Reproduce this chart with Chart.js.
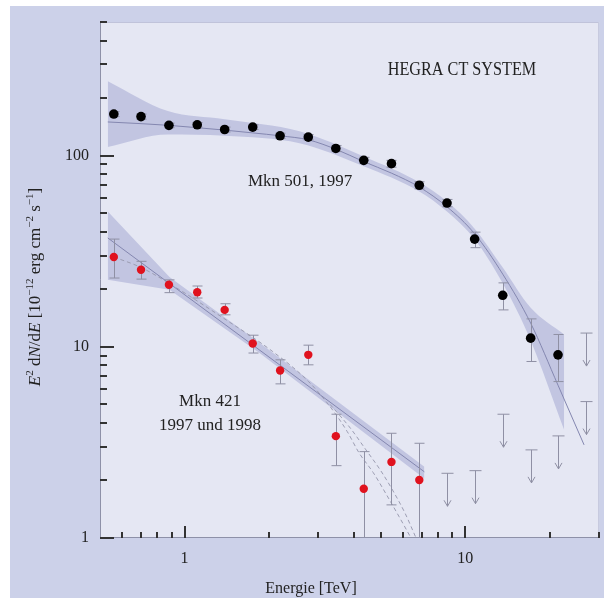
<!DOCTYPE html>
<html>
<head>
<meta charset="utf-8">
<script src="https://cdn.jsdelivr.net/npm/chart.js@4.4.0/dist/chart.umd.min.js"></script>
<style>
  html, body { margin: 0; padding: 0; background: #fff; }
  #wrap { width: 604px; height: 598px; }
</style>
</head>
<body>
<div id="wrap"><canvas id="spectrum" width="604" height="598"></canvas></div>
<script>
// --- Mkn 501 (1997), schwarze Punkte ---
const mkn501Energy = [0.56, 0.70, 0.88, 1.11, 1.39, 1.75, 2.19, 2.76, 3.46, 4.35, 5.46, 6.86, 8.61, 10.8, 13.6, 17.1, 21.4];
const mkn501Flux   = [165, 160, 144, 145, 137, 141, 127, 125, 109, 94.5, 90.8, 70, 56.5, 36.6, 18.6, 11.1, 9.08];
const mkn501High   = [170, 165, 148, 149, 141, 145, 131, 129, 113, 98, 94.5, 73, 59, 39.8, 21.6, 14.0, 11.6];
const mkn501Low    = [160, 155, 140, 141, 133, 137, 123, 121, 105, 91, 87, 67, 54, 33.0, 15.6, 8.38, 6.58];

// --- Mkn 421 (1997 und 1998), rote Punkte ---
const mkn421Energy = [0.56, 0.70, 0.88, 1.11, 1.39, 1.75, 2.19, 2.76, 3.46, 4.35, 5.46, 6.86];
const mkn421Flux   = [29.5, 25.3, 21.1, 19.3, 15.6, 10.4, 7.52, 9.08, 3.41, 1.81, 2.50, 2.01];
const mkn421High   = [36.6, 28.0, 22.4, 20.8, 16.8, 11.5, 8.55, 10.2, 4.44, 2.83, 3.53, 3.13];
const mkn421Low    = [22.9, 22.6, 19.2, 18.0, 14.7, 9.28, 6.40, 8.05, 2.39, 0.5, 1.49, 0.5];

// --- obere Grenzen (Pfeile) ---
const limitEnergy = [8.61, 10.8, 13.6, 17.1, 21.4, 26.9, 26.9];
const limitFlux   = [2.18, 2.25, 4.44, 2.89, 3.42, 5.17, 11.8];

// --- Anpassungen und Fehlerbänder ---
const fit501Energy = [0.533, 0.70, 0.88, 1.11, 1.39, 1.75, 2.19, 2.76, 3.46, 4.35, 5.46, 6.86, 8.61, 10.8, 13.6, 17.1, 21.4, 26.5];
const fit501Flux   = [150, 147, 144, 140, 136, 131.5, 127, 121, 108, 93, 81, 68.5, 54, 39, 24, 13.3, 6.3, 3.07];
const band501Energy = [0.533, 0.872, 1.39, 2.57, 4.35, 6.86, 8.61, 10.8, 13.6, 17.1, 22.5];
const band501High   = [245, 171, 155, 134, 99, 72.5, 57.5, 41.5, 26, 16, 11.6];
const band501Low    = [111, 129, 127, 116, 88, 65, 51, 36.5, 21.5, 10.8, 3.68];

const fit421Energy = [0.533, 7.15];
const fit421Flux   = [37.1, 2.22];
const band421Energy = [0.533, 0.884, 1.85, 7.15];
const band421High   = [51.1, 23.2, 10.5, 2.36];
const band421Low    = [22.4, 19.9, 9.27, 2.05];

const curveAEnergy = [0.56, 0.70, 0.88, 1.41, 2.06, 2.76, 3.33, 3.8, 4.19, 4.7, 5.21, 5.8, 6.41];
const curveAFlux   = [29.5, 26, 21.5, 13.8, 9.45, 6.6, 4.78, 3.6, 2.78, 2.2, 1.71, 1.3, 1.0];
const curveBEnergy = [3.3, 3.9, 4.43, 5.0, 5.51, 6.1, 6.68];
const curveBFlux   = [5.0, 3.75, 2.89, 2.25, 1.78, 1.35, 1.0];

// --- Achsen ---
const xMajorTicks = [1, 10];
const xTickLabels = ['1', '10'];
const xMinorTicks = [0.6, 0.7, 0.8, 0.9, 2, 3, 4, 5, 6, 7, 8, 9, 20, 30];
const yMajorTicks = [1, 10, 100];
const yTickLabels = ['1', '10', '100'];
const yMinorTicks = [2, 3, 4, 5, 6, 7, 8, 9, 20, 30, 40, 50, 60, 70, 80, 90, 200, 300, 400, 500];

const serif = '"Liberation Serif", "DejaVu Serif", serif';

function xy(xs, ys) {
    return xs.map((x, i) => ({ x: x, y: ys[i] }));
}

// Fehlerbalken und obere Grenzen
function drawErrors(chart) {
    const { ctx, chartArea: a, scales: { x, y } } = chart;
    ctx.save();
    ctx.beginPath();
    ctx.rect(a.left, a.top, a.right - a.left, a.bottom - a.top);
    ctx.clip();
    ctx.strokeStyle = '#8f90a4';
    ctx.lineWidth = 1;

    const bars = (es, hi, lo) => es.forEach((e, i) => {
        const px = Math.round(x.getPixelForValue(e)) + 0.5;
        const top = y.getPixelForValue(hi[i]);
        const bot = y.getPixelForValue(lo[i]);
        ctx.beginPath();
        ctx.moveTo(px, top); ctx.lineTo(px, bot);
        ctx.moveTo(px - 5, top); ctx.lineTo(px + 5, top);
        ctx.moveTo(px - 5, bot); ctx.lineTo(px + 5, bot);
        ctx.stroke();
    });
    bars(mkn501Energy, mkn501High, mkn501Low);
    bars(mkn421Energy, mkn421High, mkn421Low);

    limitEnergy.forEach((e, i) => {
        const px = Math.round(x.getPixelForValue(e)) + 0.5;
        const top = y.getPixelForValue(limitFlux[i]);
        const tip = top + 33;
        ctx.beginPath();
        ctx.moveTo(px - 6, top); ctx.lineTo(px + 6, top);
        ctx.moveTo(px, top); ctx.lineTo(px, tip);
        ctx.moveTo(px - 3.5, tip - 6); ctx.lineTo(px, tip); ctx.lineTo(px + 3.5, tip - 6);
        ctx.stroke();
    });
    ctx.restore();
}

function drawAxes(chart) {
    const { ctx, chartArea: a, scales: { x, y } } = chart;
    ctx.save();
    ctx.lineWidth = 1;
    ctx.strokeStyle = '#c0c3da';
    ctx.beginPath();
    ctx.moveTo(a.left, a.top + 0.5); ctx.lineTo(a.right - 0.5, a.top + 0.5); ctx.lineTo(a.right - 0.5, a.bottom);
    ctx.stroke();
    ctx.strokeStyle = '#8e91a8';
    ctx.beginPath();
    ctx.moveTo(a.left + 0.5, a.top); ctx.lineTo(a.left + 0.5, a.bottom - 0.5); ctx.lineTo(a.right, a.bottom - 0.5);
    ctx.stroke();

    ctx.strokeStyle = '#333';
    ctx.lineWidth = 2;
    const vtick = (v, len) => {
        const px = Math.round(x.getPixelForValue(v));
        ctx.beginPath(); ctx.moveTo(px, a.bottom); ctx.lineTo(px, a.bottom - len); ctx.stroke();
    };
    const htick = (v, len) => {
        const py = Math.round(y.getPixelForValue(v));
        ctx.beginPath(); ctx.moveTo(a.left, py); ctx.lineTo(a.left + len, py); ctx.stroke();
    };
    xMinorTicks.forEach(v => vtick(v, 6));
    xMajorTicks.forEach(v => vtick(v, 12));
    yMinorTicks.forEach(v => htick(v, 7));
    yMajorTicks.forEach(v => htick(v, 14));

    ctx.fillStyle = '#222';
    ctx.font = '16px ' + serif;
    ctx.textBaseline = 'middle';
    ctx.textAlign = 'center';
    xMajorTicks.forEach((v, i) => ctx.fillText(xTickLabels[i], x.getPixelForValue(v), a.bottom + 21));
    ctx.textAlign = 'right';
    yMajorTicks.forEach((v, i) => ctx.fillText(yTickLabels[i], a.left - 11, y.getPixelForValue(v)));
    ctx.restore();
}

function drawRich(ctx, parts, cx, cy, size) {
    const font = p => (p.i ? 'italic ' : '') + (p.s ? Math.round(size * 0.64) : size) + 'px ' + serif;
    let w = 0;
    parts.forEach(p => { ctx.font = font(p); p.w = ctx.measureText(p.t).width; w += p.w; });
    let px = cx - w / 2;
    parts.forEach(p => {
        ctx.font = font(p);
        ctx.fillText(p.t, px, cy + (p.s ? -size * 0.36 : 0));
        px += p.w;
    });
}

function drawTexts(chart) {
    const { ctx } = chart;
    ctx.save();
    ctx.fillStyle = '#222';
    ctx.textBaseline = 'middle';
    ctx.textAlign = 'left';

    ctx.save();
    ctx.translate(462, 70);
    ctx.scale(0.9, 1);
    ctx.font = '18px ' + serif;
    ctx.textAlign = 'center';
    ctx.fillText('HEGRA CT SYSTEM', 0, 0);
    ctx.restore();

    ctx.font = '17px ' + serif;
    ctx.fillText('Mkn 501, 1997', 248, 182);
    ctx.textAlign = 'center';
    ctx.fillText('Mkn 421', 210, 402);
    ctx.fillText('1997 und 1998', 210, 426);

    ctx.font = '16px ' + serif;
    ctx.fillText('Energie [TeV]', 311, 589);

    ctx.translate(36, 287);
    ctx.rotate(-Math.PI / 2);
    ctx.textAlign = 'left';
    drawRich(ctx, [
        { t: 'E', i: 1 }, { t: '2', s: 1 }, { t: ' d' }, { t: 'N', i: 1 }, { t: '/d' }, { t: 'E', i: 1 },
        { t: ' [10' }, { t: '\u221212', s: 1 }, { t: ' erg cm' }, { t: '\u22122', s: 1 },
        { t: ' s' }, { t: '\u22121', s: 1 }, { t: ']' }
    ], 0, 0, 17);
    ctx.restore();
}

const frame = {
    id: 'frame',
    beforeDraw(chart) {
        const { ctx, chartArea: a } = chart;
        ctx.save();
        ctx.fillStyle = '#fff';
        ctx.fillRect(0, 0, chart.width, chart.height);
        ctx.fillStyle = '#ccd1e9';
        ctx.fillRect(10, 6, chart.width - 10, chart.height - 6);
        ctx.fillStyle = '#e5e7f3';
        ctx.fillRect(a.left, a.top, a.right - a.left, a.bottom - a.top);
        ctx.restore();
    },
    afterDatasetDraw(chart, args) {
        if (args.index === 2) drawErrors(chart);
    },
    afterDraw(chart) {
        drawAxes(chart);
        drawTexts(chart);
    }
};

const bandColor = 'rgba(150, 155, 205, 0.45)';
const none = 'rgba(0,0,0,0)';

new Chart(document.getElementById('spectrum'), {
    type: 'line',
    data: {
        datasets: [
            { label: 'Mkn 501', data: xy(mkn501Energy, mkn501Flux), showLine: false,
              pointRadius: 4.8, pointBackgroundColor: '#000', pointBorderColor: '#000', pointBorderWidth: 0 },
            { label: 'Mkn 421', data: xy(mkn421Energy, mkn421Flux), showLine: false,
              pointRadius: 4.2, pointBackgroundColor: '#e0121e', pointBorderColor: '#e0121e', pointBorderWidth: 0 },
            { label: 'Fit 501', data: xy(fit501Energy, fit501Flux), borderColor: '#8487b0', borderWidth: 1,
              pointRadius: 0, cubicInterpolationMode: 'monotone', fill: false },
            { label: 'Fit 421', data: xy(fit421Energy, fit421Flux), borderColor: '#8487b0', borderWidth: 1,
              pointRadius: 0, fill: false },
            { label: 'Kurve A', data: xy(curveAEnergy, curveAFlux), borderColor: '#9c9db2', borderWidth: 1,
              borderDash: [4, 3], pointRadius: 0, cubicInterpolationMode: 'monotone', fill: false },
            { label: 'Kurve B', data: xy(curveBEnergy, curveBFlux), borderColor: '#9c9db2', borderWidth: 1,
              borderDash: [4, 3], pointRadius: 0, cubicInterpolationMode: 'monotone', fill: false },
            { label: 'Band 501 oben', data: xy(band501Energy, band501High), borderColor: none, borderWidth: 0,
              pointRadius: 0, cubicInterpolationMode: 'monotone', fill: 7, backgroundColor: bandColor },
            { label: 'Band 501 unten', data: xy(band501Energy, band501Low), borderColor: none, borderWidth: 0,
              pointRadius: 0, cubicInterpolationMode: 'monotone', fill: false },
            { label: 'Band 421 oben', data: xy(band421Energy, band421High), borderColor: none, borderWidth: 0,
              pointRadius: 0, fill: 9, backgroundColor: bandColor },
            { label: 'Band 421 unten', data: xy(band421Energy, band421Low), borderColor: none, borderWidth: 0,
              pointRadius: 0, fill: false }
        ]
    },
    options: {
        responsive: false,
        animation: false,
        events: [],
        layout: { padding: { left: 100, top: 22, right: 4, bottom: 60 } },
        plugins: { legend: { display: false }, tooltip: { enabled: false } },
        scales: {
            x: { type: 'logarithmic', min: 0.5, max: 30, display: false },
            y: { type: 'logarithmic', min: 1, max: 500, display: false }
        }
    },
    plugins: [frame]
});
</script>
</body>
</html>
